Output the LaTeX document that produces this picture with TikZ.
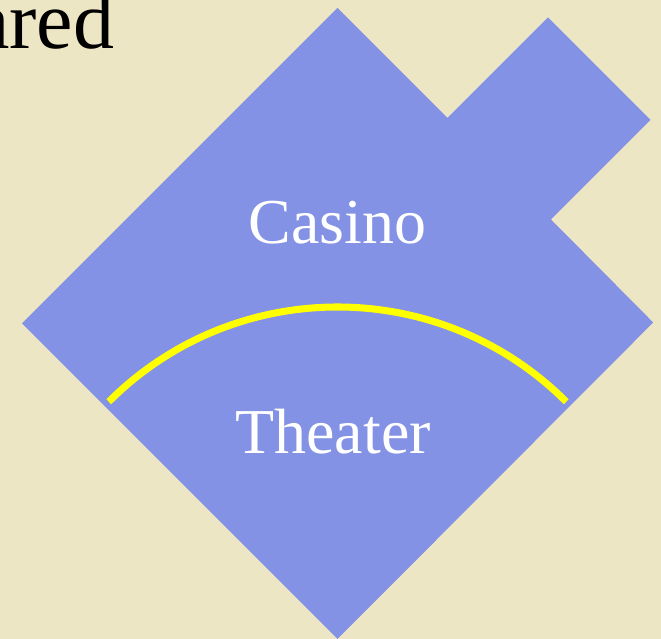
\documentclass[tikz,border=0pt]{standalone}
\usepackage{fontspec}
\setmainfont{Liberation Serif}
\usetikzlibrary{positioning}

\definecolor{paper}{RGB}{237,230,196}
\definecolor{floorblue}{RGB}{131,146,229}
\definecolor{wall}{RGB}{255,255,0}

\begin{document}
\begin{tikzpicture}[
    x=0.03cm, y=0.03cm,
    room/.style={white, inner sep=0pt, font=\fontsize{54.6}{60}\selectfont},
    title/.style={black, inner sep=0pt, font=\fontsize{70}{76}\selectfont}
]

\fill[paper] (0,0) rectangle (661,639);
\useasboundingbox (0,0) rectangle (661,639);

% floor plan
\fill[floorblue] (337.5,631) -- (447.5,521) -- (548,621.5) -- (650.5,519)
    -- (551,419.5) -- (653.2,316.5) -- (337.5,0) -- (22,315.5) -- cycle;

% partition
\coordinate (ctr) at (337.5,8.5);
\draw[wall, line width=6pt] (ctr) ++(135:323.5) arc[start angle=135, end angle=45, radius=323.5];

\node[title, anchor=base east] (head) at (114.5,590) {ared};
\node[room, anchor=base] (casino) at (337.5,395.7) {Casino};
\node[room, anchor=base] (theater) at (333,185.7) {Theater};

\end{tikzpicture}
\end{document}
